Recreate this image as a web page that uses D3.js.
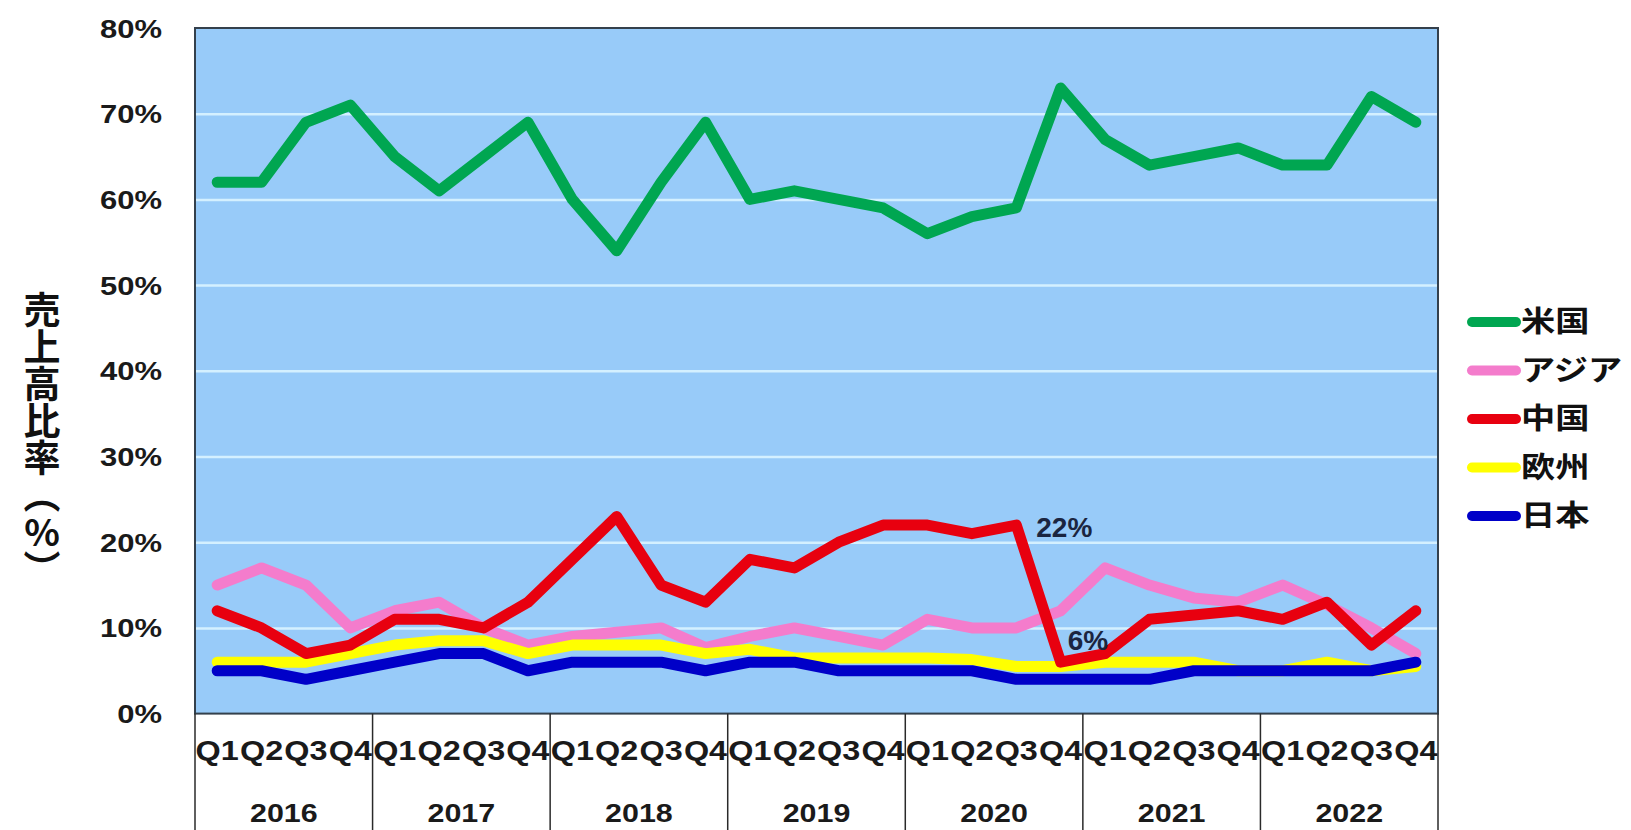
<!DOCTYPE html>
<html>
<head>
<meta charset="utf-8">
<script src="https://cdn.jsdelivr.net/npm/d3@7"></script>
<style>
    body { margin: 0; background: #fff; }
    svg { display: block; }
</style>
</head>
<body>
<svg id="chart"></svg>
<script>
const   width  = 1631,
        height = 830;

const PLOT = {
    "LEFT": 195,
    "RIGHT": 1438,
    "TOP": 28,
    "BOTTOM": 713.6,
};

// data (share of sales, %)
const years    = ["2016", "2017", "2018", "2019", "2020", "2021", "2022"];
const quarters = ["Q1", "Q2", "Q3", "Q4"];
const yTicks   = [0, 10, 20, 30, 40, 50, 60, 70, 80];

const usaShare    = [62,62,69,71, 65,61,65,69, 60,54,62,69, 60,61,60,59, 56,58,59,73, 67,64,65,66, 64,64,72,69];
const asiaShare   = [15,17,15,10, 12,13,10,8, 9,9.5,10,7.7, 9,10,9,8, 11,10,10,12, 17,15,13.5,13, 15,12.7,10,7];
const chinaShare  = [12,10,7,8, 11,11,10,13, 18,23,15,13, 18,17,20,22, 22,21,22,6, 7,11,11.5,12, 11,13,8,12];
const europeShare = [6,6,6,7, 8,8.5,8.5,7, 8,8,8,7, 7.5,6.5,6.5,6.5, 6.5,6.3,5.5,5.5, 6,6,6,5, 5,6,5,5.5];
const japanShare  = [5,5,4,5, 6,7,7,5, 6,6,6,5, 6,6,5,5, 5,5,4,4, 4,4,5,5, 5,5,5,6];

const seriesNames  = ["米国", "アジア", "中国", "欧州", "日本"];
const seriesColors = ["#00a651", "#f47ccc", "#e8000f", "#ffff00", "#0000c8"];
const seriesValues = [usaShare, asiaShare, chinaShare, europeShare, japanShare];
// drawing order, last on top
const drawOrder = [0, 1, 3, 2, 4];

const notes = [
    { key: "2020Q3", value: 22, text: "22%", dx: 20, dy: 12 },
    { key: "2020Q4", value: 6,  text: "6%",  dx: 7,  dy: -12 },
];

const yTitle = "売上高比率（%）";

const keys = [];
years.forEach(y => quarters.forEach(q => keys.push(y + q)));

var svg = d3.select("#chart").attr("width", width).attr("height", height);

const x = d3.scaleBand().domain(keys).range([PLOT.LEFT, PLOT.RIGHT]);
const xYear = d3.scaleBand().domain(years).range([PLOT.LEFT, PLOT.RIGHT]);
const y = d3.scaleLinear().domain([0, 80]).range([PLOT.BOTTOM, PLOT.TOP]);
const cx = k => x(k) + x.bandwidth() / 2;

const numFont = "'Liberation Sans', Arial, sans-serif";
const cjkFont = "'Noto Sans CJK JP', sans-serif";

// plot background
svg.append("rect")
    .attr("x", PLOT.LEFT).attr("y", PLOT.TOP)
    .attr("width", PLOT.RIGHT - PLOT.LEFT)
    .attr("height", PLOT.BOTTOM - PLOT.TOP)
    .attr("fill", "#98cbf9");

// gridlines
const grid = svg.append("g")
    .attr("transform", `translate(${PLOT.LEFT},0)`)
    .call(d3.axisLeft(y).tickValues(yTicks.slice(1, -1)).tickSize(-(PLOT.RIGHT - PLOT.LEFT)).tickFormat(""));
grid.select(".domain").remove();
grid.selectAll("line").attr("stroke", "#d4f0ff").attr("stroke-width", 2.5);

// y tick labels
const yAxis = svg.append("g")
    .attr("transform", `translate(${PLOT.LEFT},0)`)
    .call(d3.axisLeft(y).tickValues(yTicks).tickSize(0).tickFormat(d => d + "%"));
yAxis.select(".domain").remove();
yAxis.selectAll("text")
    .attr("x", null).attr("dy", "0.36em")
    .attr("transform", "translate(-33,0) scale(1.24,1)")
    .style("font-family", numFont).style("font-size", "25px").style("font-weight", "bold")
    .attr("fill", "#1a1a1a");

// lines
const line = d3.line()
    .x((d, i) => cx(keys[i]))
    .y(d => y(d));

svg.append("g").selectAll("path")
    .data(drawOrder)
    .enter()
    .append("path")
    .attr("d", i => line(seriesValues[i]))
    .attr("fill", "none")
    .attr("stroke", i => seriesColors[i])
    .attr("stroke-width", 11)
    .attr("stroke-linejoin", "round")
    .attr("stroke-linecap", "round");

// plot frame
svg.append("rect")
    .attr("x", PLOT.LEFT).attr("y", PLOT.TOP)
    .attr("width", PLOT.RIGHT - PLOT.LEFT)
    .attr("height", PLOT.BOTTOM - PLOT.TOP)
    .attr("fill", "none")
    .attr("stroke", "#34404c")
    .attr("stroke-width", 2);

// category box below the plot: year separators
svg.append("g").selectAll("line")
    .data(years.concat(["end"]))
    .enter()
    .append("line")
    .attr("x1", d => d === "end" ? PLOT.RIGHT : xYear(d))
    .attr("x2", d => d === "end" ? PLOT.RIGHT : xYear(d))
    .attr("y1", PLOT.BOTTOM).attr("y2", height)
    .attr("stroke", "#2a2a2a").attr("stroke-width", 1.5);

// quarter labels
const qAxis = svg.append("g")
    .attr("transform", `translate(0,${PLOT.BOTTOM})`)
    .call(d3.axisBottom(x).tickSize(0).tickFormat(d => d.slice(4)));
qAxis.select(".domain").remove();
qAxis.selectAll("text")
    .attr("y", null).attr("dy", null)
    .attr("transform", "translate(0,46) scale(1.2,1)")
    .style("font-family", numFont).style("font-size", "27px").style("font-weight", "bold")
    .attr("fill", "#1a1a1a");

// year labels
const yearAxis = svg.append("g")
    .attr("transform", `translate(0,${PLOT.BOTTOM})`)
    .call(d3.axisBottom(xYear).tickSize(0));
yearAxis.select(".domain").remove();
yearAxis.selectAll("text")
    .attr("y", null).attr("dy", null)
    .attr("transform", "translate(0,108) scale(1.17,1)")
    .style("font-family", numFont).style("font-size", "26px").style("font-weight", "bold")
    .attr("fill", "#1a1a1a");

// value notes
svg.append("g").selectAll("text")
    .data(notes)
    .enter()
    .append("text")
    .attr("x", d => cx(d.key) + d.dx)
    .attr("y", d => y(d.value) + d.dy)
    .text(d => d.text)
    .style("font-family", numFont).style("font-size", "28px").style("font-weight", "bold")
    .attr("fill", "#1b2540");

// legend
const legend = svg.append("g").attr("transform", "translate(1472,322)");
const item = legend.selectAll("g")
    .data(seriesNames)
    .enter()
    .append("g")
    .attr("transform", (d, i) => `translate(0,${i * 48.5})`);
item.append("line")
    .attr("x1", 0).attr("x2", 44)
    .attr("stroke", (d, i) => seriesColors[i])
    .attr("stroke-width", 10)
    .attr("stroke-linecap", "round");
item.append("text")
    .attr("transform", "translate(49,0) scale(1.18,1)")
    .attr("dy", "0.36em")
    .text(d => d)
    .style("font-family", cjkFont).style("font-size", "29px").style("font-weight", "bold")
    .attr("fill", "#111");

// y axis title, written vertically
svg.append("text")
    .attr("x", 42)
    .attr("y", 291)
    .text(yTitle)
    .style("writing-mode", "vertical-rl")
    .style("text-orientation", "upright")
    .style("font-family", cjkFont)
    .style("font-size", "37px")
    .style("font-weight", "bold")
    .attr("fill", "#111");
</script>
</body>
</html>
